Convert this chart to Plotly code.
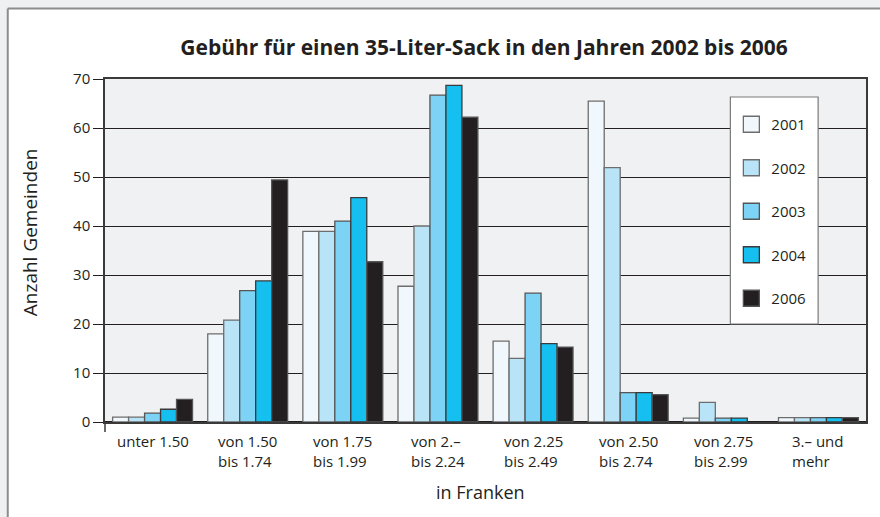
import plotly.graph_objects as go

# Preisklassen (in Franken)
categories = ["unter 1.50", "von 1.50<br>bis 1.74", "von 1.75<br>bis 1.99", "von 2.–<br>bis 2.24",
              "von 2.25<br>bis 2.49", "von 2.50<br>bis 2.74", "von 2.75<br>bis 2.99", "3.– und<br>mehr"]
cat_keys = ["c1", "c2", "c3", "c4", "c5", "c6", "c7", "c8"]

years = ["2001", "2002", "2003", "2004", "2006"]
v2001 = [1, 18, 38.9, 27.7, 16.5, 65.5, 0.8, 0.9]
v2002 = [1, 20.8, 38.9, 40, 13, 51.9, 4, 0.9]
v2003 = [1.8, 26.8, 41, 66.7, 26.3, 6, 0.8, 0.9]
v2004 = [2.6, 28.8, 45.8, 68.7, 16, 6, 0.8, 0.9]
v2006 = [4.6, 49.4, 32.7, 62.2, 15.3, 5.6, None, 0.9]
series = [v2001, v2002, v2003, v2004, v2006]

colors = ["#f0f8fe", "#b9e4f8", "#7dd3f5", "#15c0f0", "#231f20"]
edges = ["#6d6d6d", "#6d6d6d", "#555555", "#3a3a3a", "#555555"]

FONT = "Open Sans"
INK = "#231f20"

fig = go.Figure()
for i in range(len(years)):
    fig.add_trace(go.Bar(x=cat_keys, y=series[i], name=years[i], showlegend=False,
                         marker=dict(color=colors[i], line=dict(color=edges[i], width=1.3))))
# legenden-eintraege mit grossen quadraten
for i in range(len(years)):
    fig.add_trace(go.Scatter(x=[None], y=[None], mode="markers", name=years[i], legendgroup=years[i],
                             marker=dict(symbol="square", size=20, color=colors[i],
                                         line=dict(color=edges[i], width=1.3))))

# plot area: x 105..868, y 79..422 px
L, R, T, B = 105, 868, 79, 422
W, H = R - L, B - T
def px(x):
    return (x - L) / W
def py(y):
    return (B - y) / H

# kategorie-beschriftung, zeilen linksbündig
for k, lab in zip(cat_keys, categories):
    fig.add_annotation(x=k, xref="x", y=py(429), yref="paper", text=lab, showarrow=False,
                       xanchor="center", yanchor="top", align="left",
                       font=dict(family=FONT, size=15, color=INK))

fig.add_annotation(x=px(481), y=py(492), xref="paper", yref="paper", text="in Franken",
                   showarrow=False, xanchor="center", yanchor="middle",
                   font=dict(family=FONT, size=18, color=INK))
fig.add_annotation(x=px(30), y=py(232), xref="paper", yref="paper", text="Anzahl Gemeinden",
                   showarrow=False, textangle=-90, xanchor="center", yanchor="middle",
                   font=dict(family=FONT, size=19, color=INK))

# hintergrund: grauer rand oben/links, weisses blatt
fig.add_shape(type="rect", xref="paper", yref="paper", x0=px(-20), x1=px(900), y0=py(8), y1=py(-20),
              fillcolor="#eff0f2", line_width=0, layer="above")
fig.add_shape(type="rect", xref="paper", yref="paper", x0=px(-20), x1=px(7), y0=py(540), y1=py(-20),
              fillcolor="#eff0f2", line_width=0, layer="above")
fig.add_shape(type="line", xref="paper", yref="paper", x0=px(7.5), x1=px(900), y0=py(8.5), y1=py(8.5),
              line=dict(color="#8c8c8c", width=2), layer="above")
fig.add_shape(type="line", xref="paper", yref="paper", x0=px(7.5), x1=px(7.5), y0=py(8.5), y1=py(540),
              line=dict(color="#8c8c8c", width=2), layer="above")
# legendenkasten
fig.add_shape(type="rect", xref="paper", yref="paper", x0=px(732), x1=px(820), y0=py(324), y1=py(97),
              fillcolor="white", line=dict(color="#7a7a7a", width=1.2), layer="above")
# y-achse reicht etwas unter null
fig.add_shape(type="line", xref="paper", yref="paper", x0=0, x1=0, y0=0, y1=py(432),
              line=dict(color="#3a3a3a", width=1.5), layer="above")

fig.update_layout(
    width=880, height=517,
    margin=dict(l=L, r=880 - R, t=T, b=517 - B, pad=0),
    paper_bgcolor="white", plot_bgcolor="#f0f1f3",
    barmode="group", bargap=0.16, bargroupgap=0,
    title=dict(text="<b>Gebühr für einen 35-Liter-Sack in den Jahren 2002 bis 2006</b>",
               x=px(485), xref="paper", xanchor="center", y=1 - 48 / 517, yanchor="middle",
               font=dict(family=FONT, size=21, color=INK)),
    legend=dict(x=px(733), y=py(108), xanchor="left", yanchor="top", bgcolor="rgba(0,0,0,0)",
                borderwidth=0, traceorder="grouped", tracegroupgap=21,
                font=dict(family=FONT, size=15, color=INK), itemwidth=30, itemsizing="trace"),
    showlegend=True,
    font=dict(family=FONT, color=INK),
)
fig.update_xaxes(type="category", showticklabels=False, ticks="", showgrid=False,
                 showline=True, linecolor="#3a3a3a", linewidth=1.5, mirror=True)
fig.update_yaxes(range=[0, 70], dtick=10, showgrid=True, gridcolor=INK, gridwidth=1.3,
                 zeroline=True, zerolinecolor=INK, zerolinewidth=1.5,
                 ticks="outside", ticklen=10, tickcolor=INK, tickwidth=1.3,
                 showline=True, linecolor="#3a3a3a", linewidth=1.5, mirror=True,
                 tickfont=dict(family=FONT, size=15, color=INK))

fig.write_html("out.html", config={"displayModeBar": False},
               post_script="document.body.style.margin='0px';")
